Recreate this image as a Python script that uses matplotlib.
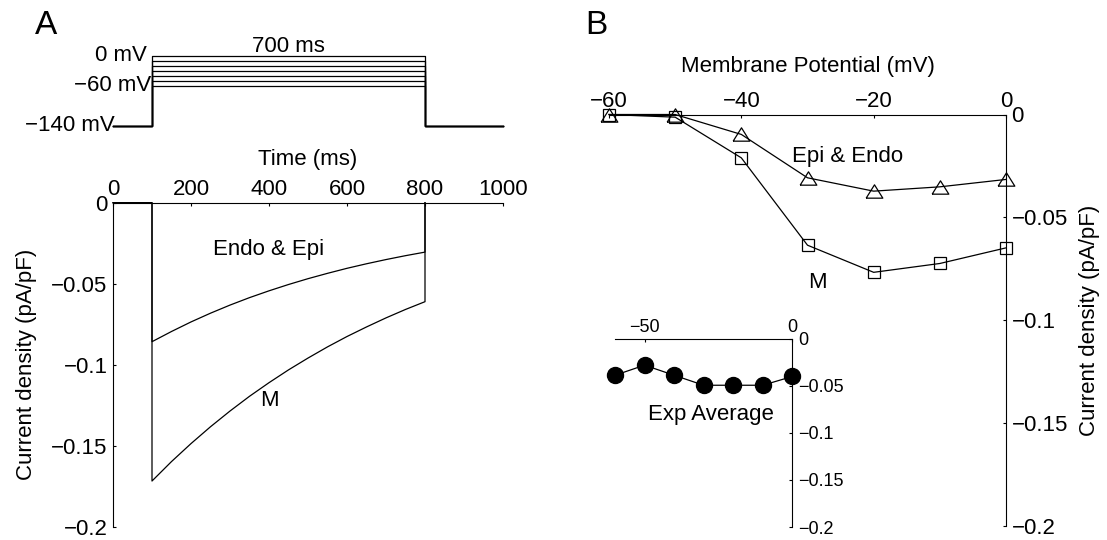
import matplotlib
matplotlib.use("Agg")
import matplotlib.pyplot as plt

plt.rcParams['font.family'] = ['Liberation Sans', 'DejaVu Sans']
plt.rcParams['font.size'] = 16
plt.rcParams['axes.linewidth'] = 0.8

W, H = 1107, 540

# voltage protocol (mV)
holding_mv = -140
step_levels_mv = [0, -10, -20, -30, -40, -50, -60]
protocol_times = [0, 100, 100, 800, 800, 1000]

# simulated current traces during the step (ms, pA/pF)
trace_time = [100, 150, 200, 250, 300, 350, 400, 450, 500,
              550, 600, 650, 700, 750, 800]
endo_epi_trace = [-0.0858, -0.0795, -0.0736, -0.0682, -0.0632, -0.0586, -0.0544,
                  -0.0505, -0.0469, -0.0436, -0.0405, -0.0377, -0.0351, -0.0327,
                  -0.0305]
m_trace = [-0.1718, -0.1598, -0.1487, -0.1383, -0.1286, -0.1195, -0.1111,
           -0.1032, -0.0959, -0.0890, -0.0826, -0.0767, -0.0711, -0.0659,
           -0.0611]

# I-V relations
membrane_mv = [-60, -50, -40, -30, -20, -10, 0]
epi_endo_iv = [0.0, 0.0, -0.0097, -0.0308, -0.0373, -0.0352, -0.0316]
m_iv = [0.0, -0.0013, -0.0211, -0.0636, -0.0768, -0.0725, -0.0649]
exp_average_iv = [-0.039, -0.0283, -0.039, -0.0496, -0.0496, -0.0496, -0.0403]

time_ticks = [0, 200, 400, 600, 800, 1000]
current_ticks = [0, -0.05, -0.1, -0.15, -0.2]
current_labels = ['0', '\u22120.05', '\u22120.1', '\u22120.15', '\u22120.2']
mv_ticks = [-60, -40, -20, 0]
mv_labels = ['\u221260', '\u221240', '\u221220', '0']
inset_mv_ticks = [-50, 0]
inset_mv_labels = ['\u221250', '0']


def px_axes(fig, x0, y0, x1, y1):
    return fig.add_axes([x0 / W, 1 - y1 / H, (x1 - x0) / W, (y1 - y0) / H])


fig = plt.figure(figsize=(W / 100, H / 100), dpi=100)

# ---- A: protocol ----
axp = px_axes(fig, 113, 50.7, 503, 130.5)
axp.set_xlim(0, 1000)
axp.set_ylim(-150, 10)
axp.axis('off')
for v in step_levels_mv:
    axp.plot(protocol_times, [holding_mv, holding_mv, v, v, holding_mv, holding_mv],
             color='black', lw=0.9, clip_on=False)
axp.text(450, 8, '700 ms', ha='center', va='baseline')
axp.text(88, step_levels_mv[0], '0 mV', ha='right', va='center')
axp.text(99, step_levels_mv[-1], '\u221260 mV', ha='right', va='center')
axp.text(5, holding_mv, '\u2212140 mV', ha='right', va='center')

# ---- A: current traces ----
axa = px_axes(fig, 113, 202.7, 503, 526.7)
for trace in [endo_epi_trace, m_trace]:
    axa.plot([0, 100] + trace_time + [800], [0, 0] + trace + [0],
             color='black', lw=0.9, clip_on=False)
axa.set_xlim(0, 1000)
axa.set_ylim(-0.2, 0)
axa.spines['right'].set_visible(False)
axa.spines['bottom'].set_visible(False)
axa.xaxis.tick_top()
axa.xaxis.set_label_position('top')
axa.set_xticks(time_ticks)
axa.set_xticklabels([str(t) for t in time_ticks])
axa.set_yticks(current_ticks)
axa.set_yticklabels(current_labels)
axa.tick_params(direction='in', length=2.5, width=0.8, pad=2)
axa.tick_params(axis='y', pad=4)
axa.set_xlabel('Time (ms)', labelpad=10)
axa.set_ylabel('Current density (pA/pF)', labelpad=10)
axa.text(400, -0.029, 'Endo & Epi', ha='center', va='center')
axa.text(400, -0.122, 'M', ha='center', va='center')

fig.text(46 / W, 1 - 26 / H, 'A', fontsize=24, ha='center', va='center')
fig.text(596 / W, 1 - 26 / H, 'B', fontsize=24, ha='center', va='center')

# ---- B: I-V curves ----
axb = px_axes(fig, 609, 114.5, 1006, 525.5)
tri = [(-1, -0.8), (1, -0.8), (0, 0.8), (-1, -0.8)]
axb.plot(membrane_mv, epi_endo_iv, color='black', lw=0.9, marker=tri,
         markersize=12, mfc='none', mec='black', mew=0.9, clip_on=False)
axb.plot(membrane_mv, m_iv, color='black', lw=0.9, marker='s',
         markersize=8, mfc='none', mec='black', mew=0.9, clip_on=False)
axb.set_xlim(-60, 0)
axb.set_ylim(-0.2, 0)
axb.spines['left'].set_visible(False)
axb.spines['bottom'].set_visible(False)
axb.xaxis.tick_top()
axb.xaxis.set_label_position('top')
axb.yaxis.tick_right()
axb.yaxis.set_label_position('right')
axb.set_xticks(mv_ticks)
axb.set_xticklabels(mv_labels)
axb.set_yticks(current_ticks)
axb.set_yticklabels(current_labels)
axb.tick_params(direction='in', length=2.5, width=0.8, pad=1.5)
axb.tick_params(axis='y', pad=4)
axb.set_xlabel('Membrane Potential (mV)', labelpad=14)
axb.set_ylabel('Current density (pA/pF)', labelpad=8)
axb.text(-24, -0.0203, 'Epi & Endo', ha='center', va='center')
axb.text(-28.5, -0.0816, 'M', ha='center', va='center')

# ---- B inset: experimental average ----
axi = px_axes(fig, 615, 338.5, 792.3, 527)
axi.patch.set_alpha(0)
axi.plot(membrane_mv, exp_average_iv, color='black', lw=0.9, marker='o',
         markersize=11.5, mfc='black', mec='black', clip_on=False)
axi.set_xlim(-60, 0)
axi.set_ylim(-0.2, 0)
axi.spines['left'].set_visible(False)
axi.spines['bottom'].set_visible(False)
axi.xaxis.tick_top()
axi.yaxis.tick_right()
axi.set_xticks(inset_mv_ticks)
axi.set_xticklabels(inset_mv_labels)
axi.set_yticks(current_ticks)
axi.set_yticklabels(current_labels)
axi.tick_params(direction='in', length=2.5, width=0.8, pad=2, labelsize=13)
axi.tick_params(axis='y', pad=4)
axi.text(-27.5, -0.0808, 'Exp Average', ha='center', va='center')

fig.savefig('out.png', dpi=100)
